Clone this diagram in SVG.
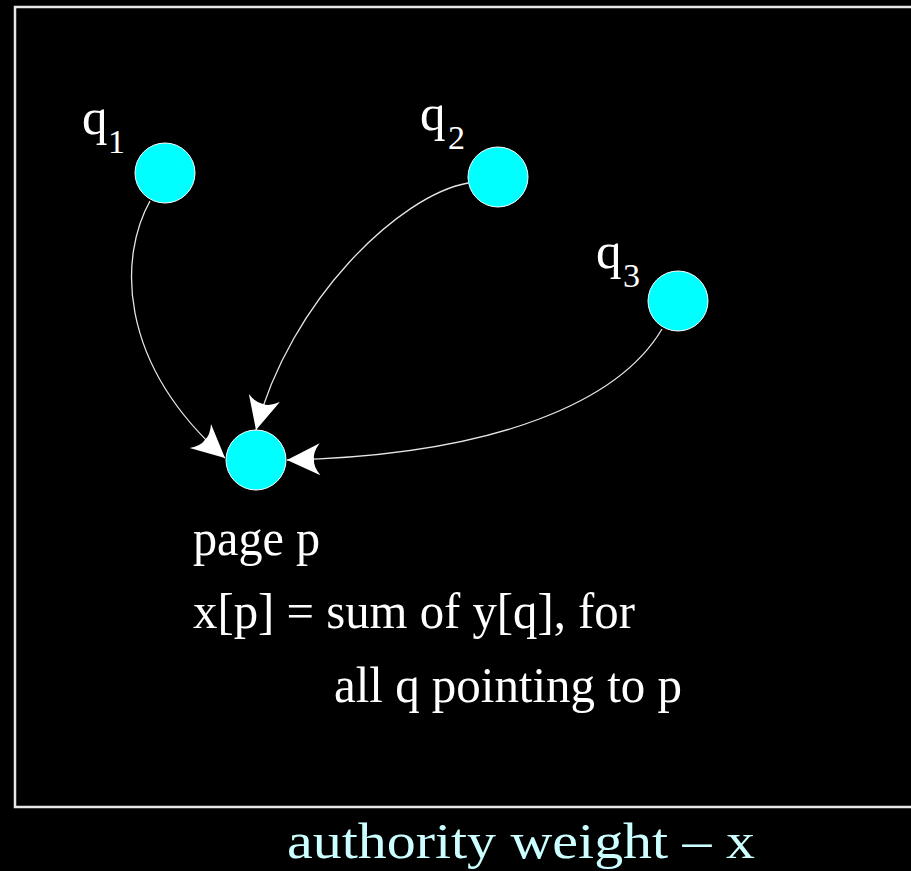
<svg xmlns="http://www.w3.org/2000/svg" width="911" height="871" viewBox="0 0 911 871">
<style>
.bg{fill:#000}
.frame{fill:none;stroke:#e8e8e8;stroke-width:2.5}
.node{fill:#00ffff;stroke:#ffffff;stroke-width:1}
.lbl{font-family:"Liberation Serif","Times New Roman",serif;fill:#ffffff;font-size:51px}
.sub{font-family:"Liberation Serif","Times New Roman",serif;fill:#ffffff;font-size:34px}
.cap{font-family:"Liberation Serif","Times New Roman",serif;fill:#ccffff;font-size:51px}
.edge{fill:none;stroke:#e6e6e6;stroke-width:1.3;marker-end:url(#ah)}
</style>
<defs>
<marker id="ah" markerUnits="userSpaceOnUse" viewBox="-34 -17 35 34" refX="0" refY="0" markerWidth="35" markerHeight="34" orient="auto" overflow="visible">
<path d="M0,0 L-33,-16 Q-26,-7 -27,0 Q-26,7 -33,16 Z" fill="#ffffff"/>
</marker>
</defs>
<rect class="bg" x="0" y="0" width="911" height="871"/>
<rect class="frame" x="15" y="7" width="920" height="800"/>
<g id="connectors">
<path class="edge" d="M150,201 C120,255 115,360 225,458"/>
<path class="edge" d="M468,183 C400,195 290,300 256,430"/>
<path class="edge" d="M662,329 C620,400 500,455 287,460"/>
</g>
<g id="q1">
<circle class="node" cx="165" cy="173" r="30"/>
<text class="lbl" x="82" y="134">q</text>
<text class="sub" x="108" y="153">1</text>
</g>
<g id="q2">
<circle class="node" cx="498" cy="177" r="30"/>
<text class="lbl" x="420" y="130">q</text>
<text class="sub" x="448" y="149">2</text>
</g>
<g id="q3">
<circle class="node" cx="678" cy="301" r="30"/>
<text class="lbl" x="596" y="268">q</text>
<text class="sub" x="623" y="287">3</text>
</g>
<g id="p">
<circle class="node" cx="256" cy="460" r="30"/>
<text class="lbl" x="193" y="555" textLength="127" lengthAdjust="spacingAndGlyphs">page p</text>
<text class="lbl" x="193" y="628" textLength="442" lengthAdjust="spacingAndGlyphs">x[p] = sum of y[q], for</text>
<text class="lbl" x="334" y="702" textLength="348" lengthAdjust="spacingAndGlyphs">all q pointing to p</text>
</g>
<text class="cap" x="287" y="858" textLength="468" lengthAdjust="spacingAndGlyphs">authority weight – x</text>
</svg>
